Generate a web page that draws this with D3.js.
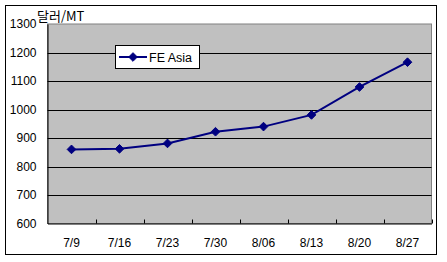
<!DOCTYPE html>
<html lang="ko">
<head>
<meta charset="UTF-8">
<title>FE Asia</title>
<style>
  body { margin: 0; background: #fff; }
  text { font-family: "Liberation Sans", Arial, sans-serif; font-size: 12px; fill: #000; }
</style>
</head>
<body>
<div id="chart"></div>
<script src="https://d3js.org/d3.v7.min.js"></script>
<script>
    var weeks = ["7/9", "7/16", "7/23", "7/30", "8/06", "8/13", "8/20", "8/27"];
    var feAsia = [860, 862, 881, 922, 940, 981, 1079, 1166];
    var yTicks = [600, 700, 800, 900, 1000, 1100, 1200, 1300];
    var seriesName = "FE Asia";
    var unitLabel = "달러/MT";

    var W = 447, H = 262;
    var plot = {left: 47.5, top: 24, right: 431.5, bottom: 223.5};

    var svg = d3.select("#chart").append("svg")
        .attr("width", W)
        .attr("height", H);

    // outer frame
    svg.append("rect")
        .attr("x", 5.5).attr("y", 5.5)
        .attr("width", 431).attr("height", 249)
        .attr("fill", "#fff").attr("stroke", "#000");

    var x = d3.scaleBand().domain(weeks).range([plot.left, plot.right]);
    var y = d3.scaleLinear().domain([600, 1300]).range([plot.bottom, plot.top]);

    // plot area
    svg.append("rect")
        .attr("x", plot.left).attr("y", plot.top)
        .attr("width", plot.right - plot.left).attr("height", plot.bottom - plot.top)
        .attr("fill", "#c0c0c0").attr("stroke", "#808080");

    // gridlines
    svg.append("g").selectAll("line")
        .data(yTicks.filter(function (d) { return d > 600 && d < 1300; }))
        .enter().append("line")
        .attr("x1", plot.left).attr("x2", plot.right)
        .attr("y1", function (d) { return Math.round(y(d)) + 0.5; })
        .attr("y2", function (d) { return Math.round(y(d)) + 0.5; })
        .attr("stroke", "#000");

    // Y axis
    var yAxis = svg.append("g")
        .attr("transform", "translate(" + plot.left + ",0)")
        .call(d3.axisLeft(y).tickValues(yTicks).tickFormat(d3.format("d"))
            .tickSize(0).tickPadding(11));
    yAxis.select(".domain").attr("stroke", "#000");
    yAxis.selectAll("text").style("font-size", "12px");

    // X axis
    var xAxis = svg.append("g")
        .attr("transform", "translate(0," + plot.bottom + ")")
        .call(d3.axisBottom(x).tickSize(0).tickPadding(15));
    xAxis.select(".domain").attr("stroke", "#000");
    xAxis.selectAll("text").style("font-size", "12px");

    // category boundary ticks (inside)
    svg.append("g").selectAll("line")
        .data(weeks.slice(1).concat(["end"]))
        .enter().append("line")
        .attr("x1", function (d, i) { return Math.round(x(weeks[0]) + x.step() * (i + 1)) + 0.5; })
        .attr("x2", function (d, i) { return Math.round(x(weeks[0]) + x.step() * (i + 1)) + 0.5; })
        .attr("y1", plot.bottom).attr("y2", plot.bottom - 4)
        .attr("stroke", "#000");

    // line
    var line = d3.line()
        .x(function (d, i) { return x(weeks[i]) + x.bandwidth() / 2; })
        .y(function (d) { return y(d); });

    svg.append("path")
        .datum(feAsia)
        .attr("d", line)
        .attr("fill", "none")
        .attr("stroke", "#000080")
        .attr("stroke-width", 2);

    var diamond = d3.symbol().type(d3.symbolDiamond2).size(48);
    svg.append("g").selectAll("path")
        .data(feAsia).enter().append("path")
        .attr("d", diamond)
        .attr("transform", function (d, i) {
            return "translate(" + (x(weeks[i]) + x.bandwidth() / 2) + "," + y(d) + ")";
        })
        .attr("fill", "#000080")
        .attr("stroke", "#000080");

    // legend
    var lg = svg.append("g");
    lg.append("rect")
        .attr("x", 115.5).attr("y", 45.5)
        .attr("width", 84).attr("height", 23)
        .attr("fill", "#fff").attr("stroke", "#000");
    lg.append("line")
        .attr("x1", 119).attr("x2", 147).attr("y1", 57).attr("y2", 57)
        .attr("stroke", "#000080").attr("stroke-width", 2);
    lg.append("path")
        .attr("d", diamond)
        .attr("transform", "translate(133,57)")
        .attr("fill", "#000080").attr("stroke", "#000080");
    lg.append("text")
        .attr("x", 149).attr("y", 61.5)
        .style("font-size", "12.5px")
        .text(seriesName);

    // unit label
    svg.append("text")
        .attr("x", 37).attr("y", 21)
        .style("font-family", "'Noto Sans CJK KR', sans-serif")
        .style("font-size", "13px")
        .text(unitLabel);
</script>
</body>
</html>
